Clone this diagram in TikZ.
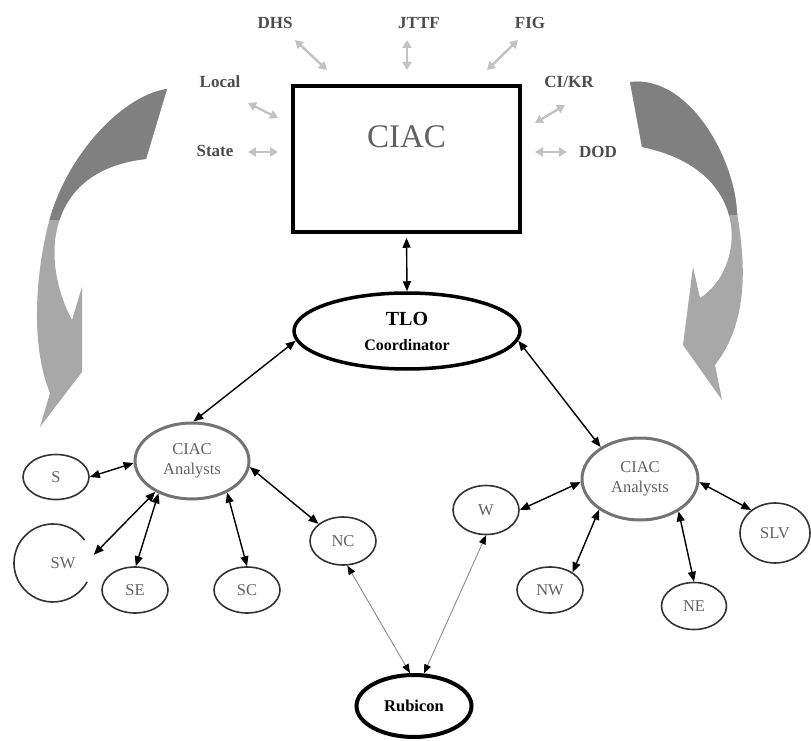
\documentclass[tikz,border=0pt]{standalone}
\usepackage{fontspec}
\setmainfont{Liberation Serif}
\usetikzlibrary{shapes.geometric}
\usetikzlibrary{arrows.meta}
\colorlet{arrdark}{black!50}
\colorlet{arrlight}{black!34}
\colorlet{feedgray}{black!24}
\colorlet{txtgray}{black!62}
\tikzset{pxl/.style={
  x=1pt,
  y=1pt
}}
\tikzset{ctr/.style={
  draw,
  shape=rectangle,
  line width=3.5pt,
  inner sep=0pt,
  minimum width=227pt,
  text height=62pt,
  text depth=84pt,
  text=txtgray,
  font=\fontsize{33}{36}\selectfont
}}
\tikzset{hub/.style={
  draw,
  shape=ellipse,
  line width=3.5pt,
  inner sep=0pt,
  align=center,
  font=\bfseries
}}
\tikzset{anl/.style={
  draw=black!55,
  shape=ellipse,
  line width=3pt,
  inner sep=0pt,
  align=center,
  text=txtgray,
  font=\fontsize{16.5}{20}\selectfont
}}
\tikzset{leaf/.style={
  draw=black!80,
  shape=ellipse,
  line width=1.6pt,
  inner sep=0pt,
  minimum width=66pt,
  minimum height=46pt,
  text=txtgray,
  font=\fontsize{16.5}{19}\selectfont
}}
\tikzset{src/.style={text=black!70,font=\bfseries\fontsize{17}{20}\selectfont}}
\tikzset{feed/.style={
  draw=feedgray,
  line width=2.4pt,
  {Triangle[length=8pt,width=9pt]}-{Triangle[length=8pt,width=9pt]}
}}
\tikzset{lnk/.style={
  draw,
  line width=1.4pt,
  {Triangle[length=10pt,width=8pt]}-{Triangle[length=10pt,width=8pt]}
}}
\tikzset{thn/.style={
  draw=black!45,
  line width=0.9pt,
  {Triangle[length=9pt,width=7pt,color=black]}-{Triangle[length=9pt,width=7pt,color=black]}
}}

\begin{document}
\begin{tikzpicture}[pxl]
    \useasboundingbox (0,0) rectangle (811,740);

    % Left turning arrow
    \def\leftarr{(167,651) .. controls (125,645) and (70,590) .. (50,522)
      .. controls (38,480) and (28,400) .. (50,347)
      -- (40,313) -- (82,368) -- (82,453) -- (72,420)
      .. controls (40,480) and (45,570) .. (146,581) -- cycle}
    \fill[arrlight] \leftarr;
    \begin{scope}
      \clip (0,520) rectangle (300,740);
      \fill[arrdark] \leftarr;
    \end{scope}

    % Right turning arrow
    \def\rightarr{(630,658) .. controls (690,665) and (735,580) .. (737,527)
      .. controls (745,480) and (750,420) .. (715,375)
      -- (722,340) -- (683,395) -- (693,473) -- (700,442)
      .. controls (745,470) and (755,570) .. (642,593) -- cycle}
    \fill[arrlight] \rightarr;
    \begin{scope}
      \clip (500,525) rectangle (811,740);
      \fill[arrdark] \rightarr;
    \end{scope}

    % Centre and outside sources
    \node[ctr] (ciac) at (406.5,581) {CIAC};
    \node[src] (dhs) at (275,717) {DHS};
    \node[src] (jttf) at (419,717) {JTTF};
    \node[src] (fig) at (530,717) {FIG};
    \node[src] (loc) at (220,658) {Local};
    \node[src] (st) at (215,589) {State};
    \node[src] (cikr) at (569,658) {CI/KR};
    \node[src] (dod) at (598,588) {DOD};

    \coordinate (dhs-a) at (295,700);  \coordinate (dhs-b) at (327,670);
    \coordinate (jttf-a) at (407,700); \coordinate (jttf-b) at (407,670);
    \coordinate (fig-a) at (518,700);  \coordinate (fig-b) at (487,670);
    \coordinate (loc-a) at (248,637);  \coordinate (loc-b) at (278,622);
    \coordinate (st-a) at (248,588);   \coordinate (st-b) at (278,588);
    \coordinate (cikr-a) at (565,635); \coordinate (cikr-b) at (535,617);
    \coordinate (dod-a) at (567,588);  \coordinate (dod-b) at (535,588);
    \foreach \s in {dhs,jttf,fig,loc,st,cikr,dod}
      \draw[feed] (\s-a) -- (\s-b);

    % Coordinator and analysts
    \node[hub,minimum width=226pt,minimum height=76pt,
      font=\bfseries\fontsize{16}{25}\selectfont] (tlo) at (407,409)
      {{\fontsize{20}{25}\selectfont TLO}\\Coordinator};
    \node[anl,minimum width=114pt,minimum height=76pt] (anl) at (192,279) {CIAC\\Analysts};
    \node[anl,minimum width=116pt,minimum height=82pt] (anr) at (640,261) {CIAC\\Analysts};

    % Regions
    \node[leaf,minimum height=45pt] (s) at (56,263) {S};
    \node[leaf,draw=none,shape=circle,minimum size=62pt] (sw) at (63,177) {SW};
    \draw[draw=black!80,line width=1.6pt] ([xshift=-10pt]sw.center) ++(36:39pt)
      arc[start angle=36,end angle=331,radius=39pt];
    \node[leaf] (se) at (135,150) {SE};
    \node[leaf] (sc) at (247,150) {SC};
    \node[leaf,minimum height=48pt] (nc) at (343,199) {NC};
    \node[leaf,minimum height=49pt] (w) at (486,230) {W};
    \node[leaf] (nw) at (550,150) {NW};
    \node[leaf,minimum width=65pt,minimum height=47pt] (ne) at (694,134) {NE};
    \node[leaf,minimum width=70pt,minimum height=60pt] (slv) at (775,207) {SLV};
    \node[hub,line width=4pt,minimum width=115pt,minimum height=62pt,
      font=\bfseries\fontsize{16.5}{19}\selectfont] (rub) at (414,34) {Rubicon};

    % Links
    \draw[lnk,shorten <=4pt] (ciac.south) -- (tlo.north);
    \draw[lnk] (tlo.185) -- (anl.88);
    \draw[lnk] (tlo.355) -- (anr.141);
    \draw[lnk] (s.east) -- (anl.182);
    \draw[lnk] (sw.15) -- (anl.220);
    \draw[lnk] (anl.224) -- (se.88);
    \draw[lnk] (anl.318) -- (sc.north);
    \draw[lnk] (anl.354) -- (nc.145);
    \draw[lnk] (w.east) -- (anr.183);
    \draw[lnk] (anr.217) -- (nw.38);
    \draw[lnk] (anr.320) -- (ne.north);
    \draw[lnk] (anr.357) -- (slv.136);
    \draw[thn] (nc.280) -- (rub.97);
    \draw[thn] (w.south) -- (rub.73);

  \end{tikzpicture}
\end{document}
